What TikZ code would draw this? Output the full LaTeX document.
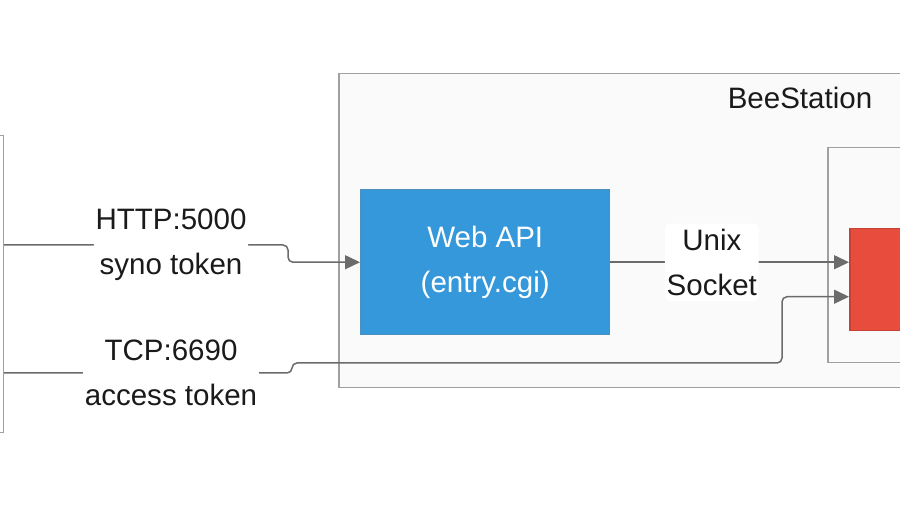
\documentclass[tikz,border=0pt]{standalone}
\usepackage{fontspec}
\setmainfont{Liberation Sans}
\usepackage{xcolor}
\definecolor{bsblue}{HTML}{3498DB}
\definecolor{bsred}{HTML}{E74C3C}
\definecolor{bsgray}{HTML}{A0A0A0}
\definecolor{bswire}{HTML}{6B6B6B}
\definecolor{bsfill}{HTML}{FAFAFA}
\definecolor{bstext}{HTML}{1A1A1A}
\usetikzlibrary{arrows.meta, positioning}

\begin{document}
\begin{tikzpicture}[
  x=0.02cm, y=-0.02cm,
  frame/.style={rectangle, draw=bsgray, line width=0.03cm, fill=#1, inner sep=0pt},
  txt/.style={font=\fontsize{16.8}{25.6}\selectfont, text=#1, align=center},
  tag/.style={txt=bstext, fill=white, inner xsep=1pt, inner ysep=3pt},
  wire/.style={draw=bswire, line width=0.03cm, rounded corners=0.1cm,
               -{Triangle[length=0.3cm, width=0.28cm]}}
]
\useasboundingbox (0,0) rectangle (900,506);
\clip (0,0) rectangle (900,506);

% Client (cut off at the left edge)
\node[frame=white, anchor=north east, minimum width=5cm, minimum height=5.94cm] (client) at (4,135) {};

% BeeStation and its inner parts
\node[frame=bsfill, anchor=north west, minimum width=15.24cm, minimum height=6.28cm] (beestation) at (338,73) {};
\node[txt=bstext] (bsname) at (800,98) {BeeStation};
\node[frame=bsfill, anchor=north west, minimum width=10cm, minimum height=4.3cm] (daemon) at (827,147) {};
\node[frame=bsred, draw=bsred!85!black, anchor=north west, minimum width=5cm, minimum height=2.04cm] (red) at (849,228) {};
\node[frame=bsblue, draw=bsblue!70!gray, txt=white, anchor=north west, minimum width=4.98cm, minimum height=2.9cm] (webapi) at (360,189) {Web API\\(entry.cgi)};

% Connections
\coordinate (httpin) at (4,245);
\coordinate (tcpin) at (4,373);
\draw[wire] (httpin) -- node[tag, pos=0.588] (http) {HTTP:5000\\syno token} (288,245) |- (webapi.west);
\draw[wire] (webapi.east) -- node[tag, pos=0.425] (unix) {Unix\\Socket} (webapi.east -| red.west);
\draw[wire] (tcpin) -- node[tag, pos=0.58] (tcp) {TCP:6690\\access token} (292,373) -- (292,363) -- (782,363) |- ([yshift=-0.34cm]red.west);
\end{tikzpicture}
\end{document}
